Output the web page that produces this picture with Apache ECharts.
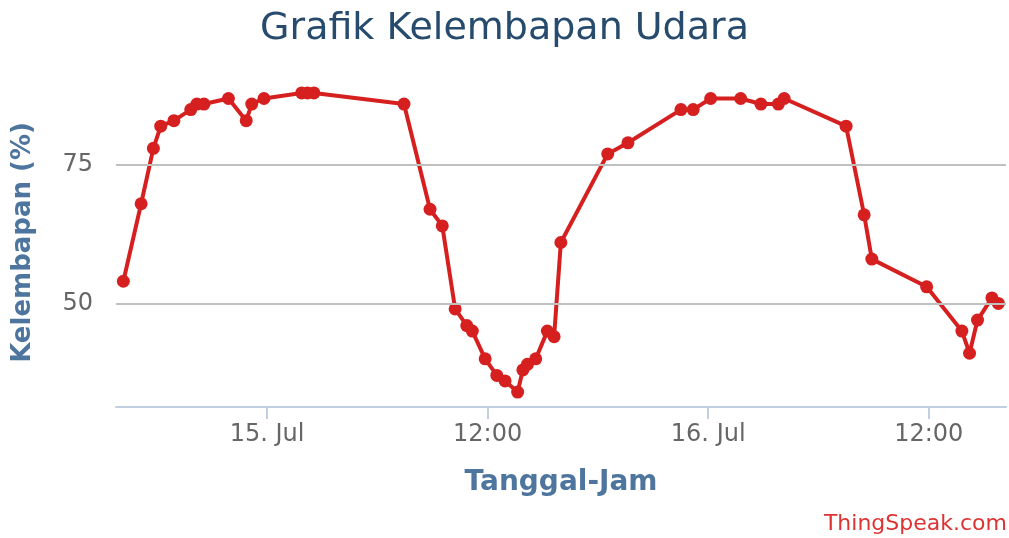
<!DOCTYPE html>
<html>
<head>
<meta charset="utf-8">
<script src="https://cdn.jsdelivr.net/npm/echarts@6/dist/echarts.min.js"></script>
<style>
  html, body { margin: 0; padding: 0; background: #fff; }
  #chart { width: 1009px; height: 538px; }
</style>
</head>
<body>
<div id="chart"></div>
<script>
// waktu pengukuran (bulan-hari jam:menit) dan kelembapan (%)
var times = ['07-14 16:11', '07-14 17:09', '07-14 17:49', '07-14 18:13', '07-14 18:56',
  '07-14 19:51', '07-14 20:11', '07-14 20:34', '07-14 21:54', '07-14 22:52',
  '07-14 23:10', '07-14 23:50', '07-15 01:53', '07-15 02:12', '07-15 02:33',
  '07-15 07:27', '07-15 08:52', '07-15 09:32', '07-15 10:14', '07-15 10:52',
  '07-15 11:10', '07-15 11:52', '07-15 12:30', '07-15 12:57', '07-15 13:38',
  '07-15 13:55', '07-15 14:10', '07-15 14:37', '07-15 15:15', '07-15 15:37',
  '07-15 15:59', '07-15 18:32', '07-15 19:38', '07-15 22:31', '07-15 23:11',
  '07-16 00:08', '07-16 01:46', '07-16 02:52', '07-16 03:49', '07-16 04:08',
  '07-16 07:30', '07-16 08:29', '07-16 08:54', '07-16 11:53', '07-16 13:48',
  '07-16 14:13', '07-16 14:39', '07-16 15:26', '07-16 15:47'];
var humidity = [54, 68, 78, 82, 83, 85, 86, 86, 87, 83, 86, 87, 88, 88, 88,
  86, 67, 64, 49, 46, 45, 40, 37, 36, 34, 38, 39, 40, 45, 44,
  61, 77, 79, 85, 85, 87, 87, 86, 86, 87, 82, 66, 58, 53, 45,
  41, 47, 51, 50];
var xTicks = ['07-15 00:00', '07-15 12:00', '07-16 00:00', '07-16 12:00'];
var yTicks = [50, 75];
var xRange = ['07-14 15:47', '07-16 16:12'];
var yRange = [31.3, 90.7];

function t(s) {
  return new Date('2014-' + s.replace(' ', 'T') + ':00').getTime();
}
function pad(n) { return (n < 10 ? '0' : '') + n; }

var font = 'DejaVu Sans';
var chart = echarts.init(document.getElementById('chart'), null, { renderer: 'canvas' });

var option = {
  animation: false,
  backgroundColor: '#fff',
  title: {
    text: 'Grafik Kelembapan Udara',
    left: 'center',
    top: 5,
    textStyle: { fontFamily: font, fontSize: 38, fontWeight: 'normal', color: '#274b6d' }
  },
  grid: { left: 116, right: 3, top: 78, bottom: 131 },
  xAxis: {
    type: 'value',
    min: t(xRange[0]),
    max: t(xRange[1]),
    name: 'Tanggal-Jam',
    nameLocation: 'middle',
    nameGap: 62,
    nameTextStyle: { fontFamily: font, fontSize: 28, fontWeight: 'bold', color: '#4d759e' },
    axisLine: { lineStyle: { color: '#C0D0E0', width: 2 } },
    axisTick: { show: true, length: 12, lineStyle: { color: '#C0D0E0', width: 2 },
      customValues: xTicks.map(t) },
    axisLabel: {
      customValues: xTicks.map(t),
      margin: 16,
      fontFamily: font, fontSize: 24, color: '#666',
      formatter: function (v) {
        var d = new Date(v);
        if (d.getHours() === 0) return d.getDate() + '. Jul';
        return pad(d.getHours()) + ':' + pad(d.getMinutes());
      }
    },
    splitLine: { show: false }
  },
  yAxis: {
    type: 'value',
    min: yRange[0],
    max: yRange[1],
    name: 'Kelembapan (%)',
    nameLocation: 'middle',
    nameRotate: 90,
    nameGap: 80,
    nameTextStyle: { fontFamily: font, fontSize: 26, fontWeight: 'bold', color: '#4d759e' },
    axisLine: { show: false },
    axisTick: { show: false, customValues: yTicks },
    axisLabel: { customValues: yTicks, margin: 23, fontFamily: font, fontSize: 24, color: '#666' },
    splitLine: { show: false }
  },
  series: [{
    type: 'line',
    data: [],
    z: 1,
    silent: true,
    markLine: {
      silent: true,
      symbol: ['none', 'none'],
      label: { show: false },
      lineStyle: { color: '#C0C0C0', width: 2, type: 'solid' },
      data: yTicks.map(function (v) { return { yAxis: v }; })
    }
  }, {
    type: 'line',
    z: 3,
    data: times.map(function (s, i) { return [t(s), humidity[i]]; }),
    symbol: 'circle',
    symbolSize: 13,
    showAllSymbol: true,
    itemStyle: { color: '#d62020' },
    lineStyle: { color: '#d62020', width: 4 }
  }],
  graphic: [{
    type: 'text',
    right: 2,
    bottom: 3,
    style: { text: 'ThingSpeak.com', fontFamily: font, fontSize: 22, fill: '#dd3333' }
  }]
};

chart.setOption(option);
</script>
</body>
</html>
